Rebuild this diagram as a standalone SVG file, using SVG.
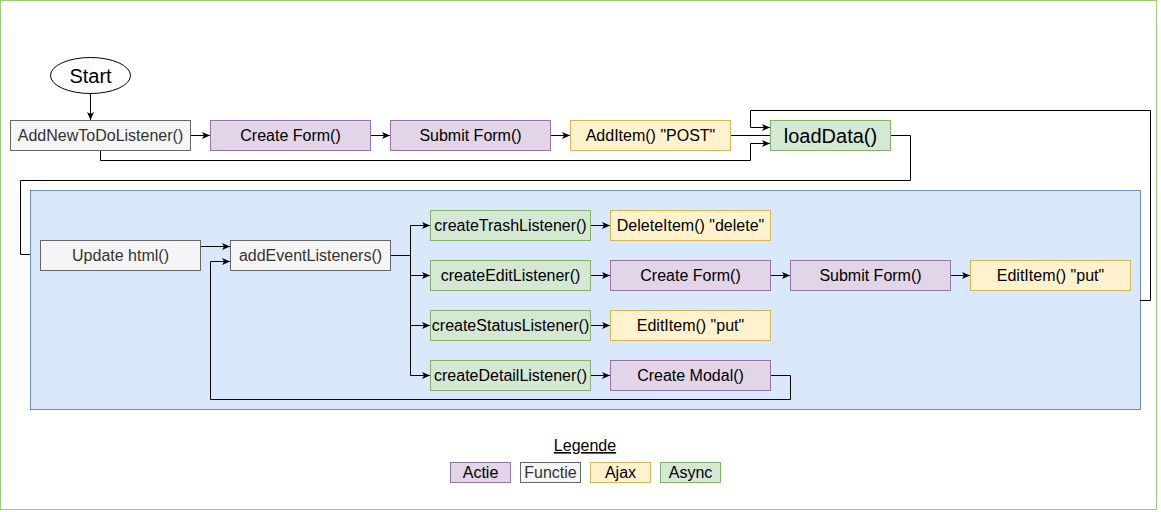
<svg xmlns="http://www.w3.org/2000/svg" width="1161" height="512" viewBox="0 0 1161 512">
<style>
text{font-family:"Liberation Sans",Arial,Helvetica,sans-serif;font-size:16px;text-anchor:middle;fill:#000}
.fn{fill:#f5f5f5;stroke:#666666}
.fn-t{fill:#333333}
.act{fill:#e1d5e7;stroke:#9673a6}
.ajax{fill:#fff2cc;stroke:#d6b656}
.async{fill:#d5e8d4;stroke:#82b366}
.edge{fill:none;stroke:#000;stroke-width:1}
.arr{marker-end:url(#ah)}
</style>
<defs>
<marker id="ah" viewBox="0 0 8 8" refX="8" refY="4" markerWidth="8" markerHeight="8" markerUnits="userSpaceOnUse" orient="auto">
<path d="M0,0.5 L8,4 L0,7.5 L2,4 Z" fill="#000"/>
</marker>
</defs>
<rect x="0.5" y="0.5" width="1156" height="509" fill="#fff" stroke="#97d077"/>
<g id="container"><rect x="30.5" y="190.5" width="1110" height="219" fill="#dae8fc" stroke="#6c8ebf"/></g>
<g id="connectors">
<path class="edge arr" d="M90.5,93 L90.5,120"/>
<path class="edge arr" d="M190,135.5 L210,135.5"/>
<path class="edge arr" d="M370,135.5 L390,135.5"/>
<path class="edge arr" d="M550,135.5 L570,135.5"/>
<path class="edge" d="M730,135.5 L770,135.5"/>
<path class="edge arr" d="M100.5,150 L100.5,160.5 L750.5,160.5 L750.5,143.5 L770,143.5"/>
<path class="edge arr" d="M1140,300.5 L1150.5,300.5 L1150.5,110.5 L750.5,110.5 L750.5,127.5 L770,127.5"/>
<path class="edge" d="M890,135.5 L910.5,135.5 L910.5,180.5 L20.5,180.5 L20.5,254.5 L30,254.5"/>
<path class="edge arr" d="M200,246.5 L230,246.5"/>
<path class="edge arr" d="M770,375.5 L790.5,375.5 L790.5,399.5 L210.5,399.5 L210.5,261.5 L230,261.5"/>
<path class="edge" d="M390,255.5 L410.5,255.5"/>
<path class="edge" d="M410.5,225.5 L410.5,375.5"/>
<path class="edge arr" d="M410.5,225.5 L430,225.5"/>
<path class="edge arr" d="M410.5,275.5 L430,275.5"/>
<path class="edge arr" d="M410.5,325.5 L430,325.5"/>
<path class="edge arr" d="M410.5,375.5 L430,375.5"/>
<path class="edge arr" d="M590,225.5 L610,225.5"/>
<path class="edge arr" d="M590,275.5 L610,275.5"/>
<path class="edge arr" d="M590,325.5 L610,325.5"/>
<path class="edge arr" d="M590,375.5 L610,375.5"/>
<path class="edge arr" d="M770,275.5 L790,275.5"/>
<path class="edge arr" d="M950,275.5 L970,275.5"/>
</g>
<g id="start"><ellipse cx="90.5" cy="75.5" rx="40" ry="18" fill="#fff" stroke="#000"/><text x="90.5" y="82.5" style="font-size:20px">Start</text></g>
<g id="addNewToDoListener"><rect class="fn" x="10.5" y="120.5" width="180" height="30"/><text class="fn-t" x="100.5" y="141">AddNewToDoListener()</text></g>
<g id="createForm1"><rect class="act" x="210.5" y="120.5" width="160" height="30"/><text x="290.5" y="141">Create Form()</text></g>
<g id="submitForm1"><rect class="act" x="390.5" y="120.5" width="160" height="30"/><text x="470.5" y="141">Submit Form()</text></g>
<g id="addItem"><rect class="ajax" x="570.5" y="120.5" width="160" height="30"/><text x="650.5" y="141">AddItem() "POST"</text></g>
<g id="loadData"><rect class="async" x="770.5" y="120.5" width="120" height="30"/><text x="830.5" y="142.5" style="font-size:20px">loadData()</text></g>
<g id="updateHtml"><rect class="fn" x="40.5" y="240.5" width="160" height="30"/><text class="fn-t" x="120.5" y="261">Update html()</text></g>
<g id="addEventListeners"><rect class="fn" x="230.5" y="240.5" width="160" height="30"/><text class="fn-t" x="310.5" y="261">addEventListeners()</text></g>
<g id="createTrashListener"><rect class="async" x="430.5" y="210.5" width="160" height="30"/><text x="510.5" y="231">createTrashListener()</text></g>
<g id="createEditListener"><rect class="async" x="430.5" y="260.5" width="160" height="30"/><text x="510.5" y="281">createEditListener()</text></g>
<g id="createStatusListener"><rect class="async" x="430.5" y="310.5" width="160" height="30"/><text x="510.5" y="331">createStatusListener()</text></g>
<g id="createDetailListener"><rect class="async" x="430.5" y="360.5" width="160" height="30"/><text x="510.5" y="381">createDetailListener()</text></g>
<g id="deleteItem"><rect class="ajax" x="610.5" y="210.5" width="160" height="30"/><text x="690.5" y="231">DeleteItem() "delete"</text></g>
<g id="createForm2"><rect class="act" x="610.5" y="260.5" width="160" height="30"/><text x="690.5" y="281">Create Form()</text></g>
<g id="editItem2"><rect class="ajax" x="610.5" y="310.5" width="160" height="30"/><text x="690.5" y="331">EditItem() "put"</text></g>
<g id="createModal"><rect class="act" x="610.5" y="360.5" width="160" height="30"/><text x="690.5" y="381">Create Modal()</text></g>
<g id="submitForm2"><rect class="act" x="790.5" y="260.5" width="160" height="30"/><text x="870.5" y="281">Submit Form()</text></g>
<g id="editItem1"><rect class="ajax" x="970.5" y="260.5" width="160" height="30"/><text x="1050.5" y="281">EditItem() "put"</text></g>
<g id="legend">
<text x="585" y="451" text-decoration="underline">Legende</text>
<rect class="act" x="450.5" y="462.5" width="60" height="20"/><text x="480.5" y="478">Actie</text>
<rect class="fn" x="520.5" y="462.5" width="60" height="20"/><text class="fn-t" x="550.5" y="478">Functie</text>
<rect class="ajax" x="590.5" y="462.5" width="60" height="20"/><text x="620.5" y="478">Ajax</text>
<rect class="async" x="660.5" y="462.5" width="60" height="20"/><text x="690.5" y="478">Async</text>
</g>
</svg>
